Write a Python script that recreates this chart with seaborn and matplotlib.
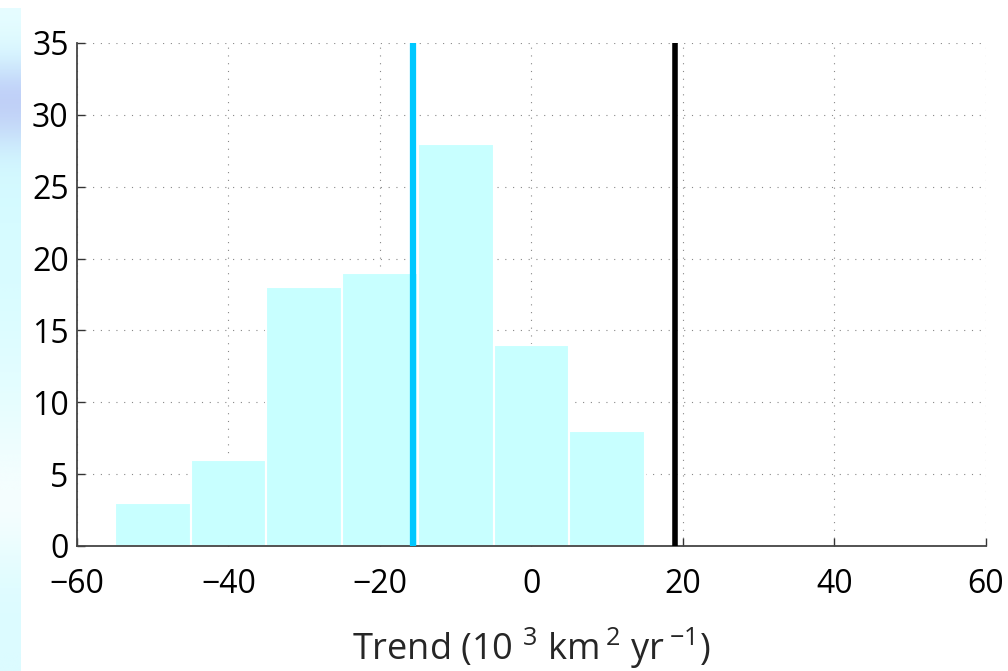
import numpy as np
import pandas as pd
import matplotlib
matplotlib.use("Agg")
import matplotlib.pyplot as plt
import matplotlib.colors as mcolors
import seaborn as sns

# histogram of trends (bin centres and counts)
bin_centers = [-50, -40, -30, -20, -10, 0, 10]
bin_counts = [3, 6, 18, 19, 28, 14, 8]
ens_mean_trend = -15.6   # cyan line
obs_trend = 18.9         # black line

x_ticks = [-60, -40, -20, 0, 20, 40, 60]
y_ticks = [0, 5, 10, 15, 20, 25, 30, 35]

df = pd.DataFrame({"trend": bin_centers, "count": bin_counts})

sns.set_style("white")
plt.rcParams['font.family'] = ['Open Sans', 'DejaVu Sans']
plt.rcParams['mathtext.fontset'] = 'custom'
plt.rcParams['mathtext.rm'] = 'Open Sans'
plt.rcParams['mathtext.it'] = 'Open Sans'

fig = plt.figure(figsize=(10.08, 6.71), dpi=100)

# slide background strip on the left edge (top to bottom)
strip = ["#e6fdff", "#d6f6ff", "#bccaf7", "#c4d6f8", "#d2f6ff", "#d4faff", "#d6fbff",
         "#d8fcff", "#d9fcff", "#dcfcff", "#e0fdff", "#e4fdff", "#eafeff", "#f0fefe",
         "#f6fefe", "#f4fefe", "#e8fdff", "#dffcff", "#dcfbff", "#dcfbff"]
bg = fig.add_axes([0, 0, 0.02, 0.988])
bg.imshow(np.array([mcolors.to_rgb(c) for c in strip])[:, None, :], aspect="auto",
          interpolation="bicubic")
bg.axis("off")

ax = fig.add_axes([0.0764, 0.1863, 0.9016, 0.7497])
sns.histplot(data=df, x="trend", weights="count", binwidth=10, binrange=(-55, 15),
             color="#c8ffff", alpha=1, edgecolor="white", linewidth=1.5, ax=ax)

ax.axvline(ens_mean_trend, color="#00c8ff", lw=4.5, zorder=3)
ax.axvline(obs_trend, color="black", lw=4, zorder=3)

ax.set_xlim(-60, 60)
ax.set_ylim(0, 35)
ax.set_xticks(x_ticks)
ax.set_yticks(y_ticks)
ax.set_xticklabels([str(v).replace("-", "\u2212") for v in x_ticks])
ax.grid(True, linestyle=(0, (1, 6)), color="#888888", lw=0.8)
ax.set_axisbelow(True)
ax.tick_params(direction="in", length=6, width=1, labelsize=23, colors="#333333",
               labelcolor="black", bottom=True, left=True)
ax.tick_params(axis="x", pad=16)
ax.tick_params(axis="y", pad=6)
for lbl in ax.get_yticklabels():
    lbl.set_verticalalignment("center_baseline")
for s in ["top", "right"]:
    ax.spines[s].set_visible(False)
for s in ["left", "bottom"]:
    ax.spines[s].set_color("#444444")
    ax.spines[s].set_linewidth(1.3)
ax.set_ylabel("")
ax.set_xlabel(r"Trend (10 $^{3}$ km$\,^{2}$ yr$\,^{-1}$)", fontsize=26, labelpad=18)

fig.savefig("out.png", dpi=100)
